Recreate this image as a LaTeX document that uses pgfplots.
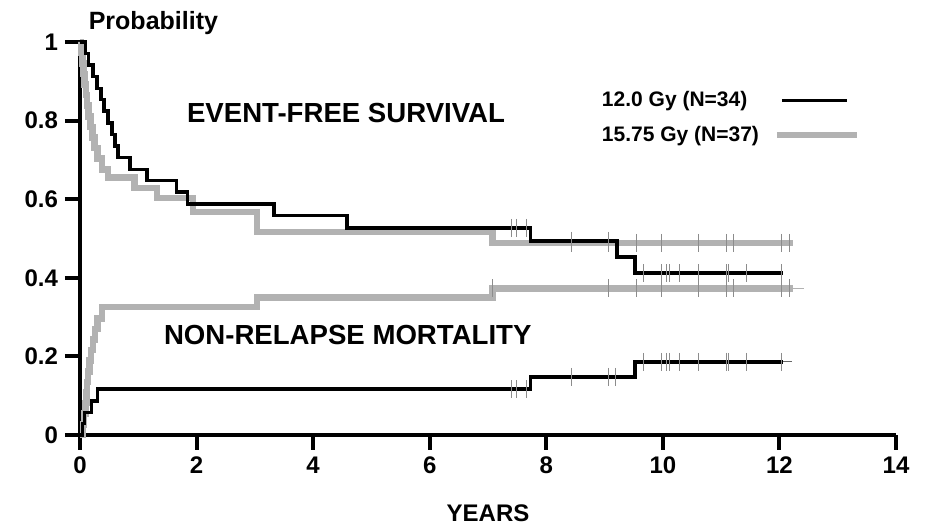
\documentclass[border=0pt]{standalone}
\usepackage{pgfplots}
\pgfplotsset{compat=1.18}
\usepackage{fontspec}
\setmainfont{Liberation Sans}
\definecolor{dosehigh}{RGB}{178,178,178}
\definecolor{censor}{RGB}{140,140,140}

\begin{document}
\begin{tikzpicture}
\path[use as bounding box] (0,0) rectangle (462.5pt,264pt);
\begin{axis}[
  at={(40pt,46.5pt)}, anchor=south west,
  scale only axis, width=408pt, height=196.5pt,
  xmin=0, xmax=14, ymin=0, ymax=1,
  axis x line=bottom, axis y line=left,
  axis line style={-, line width=2pt},
  xtick={0,2,4,6,8,10,12,14},
  ytick={0,0.2,0.4,0.6,0.8,1},
  tick align=outside, major tick length=7.5pt,
  every tick/.style={black, line width=2pt},
  tick label style={font=\bfseries\fontsize{12}{14}\selectfont},
  /pgf/number format/assume math mode=true,
  xlabel={YEARS},
  xlabel style={font=\bfseries\fontsize{12}{14}\selectfont,
    at={(axis description cs:0.5,0)}, anchor=base, yshift=-43.5pt},
  clip=false,
  legend plot pos=right,
  legend cell align=left,
  legend style={at={(axis cs:8.88,0.885)}, anchor=north west,
    draw=none, fill=none, inner sep=0pt, row sep=4pt,
    font=\bfseries\fontsize{10.5}{12}\selectfont},
]
% 15.75 Gy: event-free survival
\addplot[const plot, dosehigh, line width=3.3pt, forget plot] coordinates {
 (0,1) (0.02,0.973) (0.04,0.946) (0.06,0.919) (0.08,0.892) (0.10,0.865)
 (0.12,0.838) (0.15,0.811) (0.18,0.784) (0.21,0.757) (0.25,0.730)
 (0.30,0.703) (0.38,0.676) (0.48,0.655) (0.94,0.628) (1.32,0.603)
 (1.94,0.567) (3.04,0.517) (7.08,0.489) (12.23,0.489)};
% 15.75 Gy: non-relapse mortality
\addplot[const plot, dosehigh, line width=3.3pt, forget plot] coordinates {
 (0,0) (0.05,0.027) (0.07,0.054) (0.09,0.081) (0.11,0.108) (0.12,0.135)
 (0.14,0.162) (0.16,0.189) (0.19,0.216) (0.22,0.243) (0.26,0.270)
 (0.30,0.297) (0.38,0.326) (3.04,0.350) (7.08,0.373) (12.23,0.373)};
\addplot[dosehigh, line width=0.8pt, forget plot] coordinates {(12.23,0.373) (12.42,0.373)};
% 12.0 Gy: event-free survival
\addplot[const plot, black, line width=1.7pt, forget plot] coordinates {
 (0,1) (0.09,0.971) (0.15,0.941) (0.22,0.912) (0.29,0.882) (0.36,0.853)
 (0.41,0.824) (0.48,0.794) (0.55,0.765) (0.60,0.735) (0.65,0.706)
 (0.86,0.676) (1.15,0.647) (1.66,0.618) (1.84,0.588) (3.33,0.559)
 (4.58,0.527) (7.73,0.494) (9.21,0.453) (9.52,0.412) (12.06,0.412)};
% 12.0 Gy: non-relapse mortality
\addplot[const plot, black, line width=1.7pt, forget plot] coordinates {
 (0,0) (0.04,0.029) (0.08,0.057) (0.20,0.086) (0.30,0.117)
 (7.73,0.148) (9.52,0.186) (12.06,0.186)};
\addplot[black!60, line width=0.6pt, forget plot] coordinates {(12.06,0.186) (12.22,0.186)};
% censored observations
\addplot[only marks, mark=|, mark size=4.5pt, censor, mark options={line width=0.5pt}, forget plot] coordinates {
 (7.40,0.527) (7.49,0.527) (7.66,0.527) (8.43,0.494) (9.06,0.494)
 (9.66,0.412) (9.98,0.412) (10.06,0.412) (10.12,0.412) (10.29,0.412)
 (10.61,0.412) (11.09,0.412) (11.12,0.412) (11.44,0.412) (12.04,0.412)};
\addplot[only marks, mark=|, mark size=4.5pt, censor, mark options={line width=0.5pt}, forget plot] coordinates {
 (7.40,0.117) (7.49,0.117) (7.66,0.117) (8.43,0.148) (9.06,0.148) (9.18,0.148)
 (9.66,0.186) (9.98,0.186) (10.06,0.186) (10.12,0.186) (10.29,0.186)
 (10.61,0.186) (11.09,0.186) (11.12,0.186) (11.44,0.186) (12.04,0.186)};
\addplot[only marks, mark=|, mark size=4.5pt, censor, mark options={line width=0.5pt}, forget plot] coordinates {
 (8.43,0.489) (9.06,0.489) (9.55,0.489) (9.98,0.489) (10.61,0.489)
 (11.09,0.489) (11.21,0.489) (12.04,0.489) (12.18,0.489)};
\addplot[only marks, mark=|, mark size=4.5pt, censor, mark options={line width=0.5pt}, forget plot] coordinates {
 (7.08,0.373) (9.06,0.373) (9.55,0.373) (9.98,0.373) (10.61,0.373)
 (11.09,0.373) (11.21,0.373) (12.04,0.373) (12.18,0.373)};
% legend
\addlegendimage{black, line width=1.7pt,
  legend image code/.code={\path[draw=none, fill=none] (0pt,-2pt) rectangle (47pt,2pt);
    \draw[black, line width=1.7pt] (9.5pt,0pt) -- (42pt,0pt);}}
\addlegendentry{12.0 Gy (N=34)}
\addlegendimage{dosehigh, line width=3.3pt,
  legend image code/.code={\path[draw=none, fill=none] (0pt,-2pt) rectangle (47pt,2pt);
    \draw[dosehigh, line width=3.3pt] (7pt,0pt) -- (47pt,0pt);}}
\addlegendentry{15.75 Gy (N=37)}
% labels
\node[anchor=base west, font=\bfseries\fontsize{12.5}{14}\selectfont, yshift=6pt] at (axis cs:0.03,1) {Probability};
\node[anchor=base west, font=\bfseries\fontsize{13.8}{16}\selectfont] at (axis cs:1.715,0.794) {EVENT-FREE SURVIVAL};
\node[anchor=base west, font=\bfseries\fontsize{13.8}{16}\selectfont] at (axis cs:1.32,0.229) {NON-RELAPSE MORTALITY};
\end{axis}
\end{tikzpicture}
\end{document}
